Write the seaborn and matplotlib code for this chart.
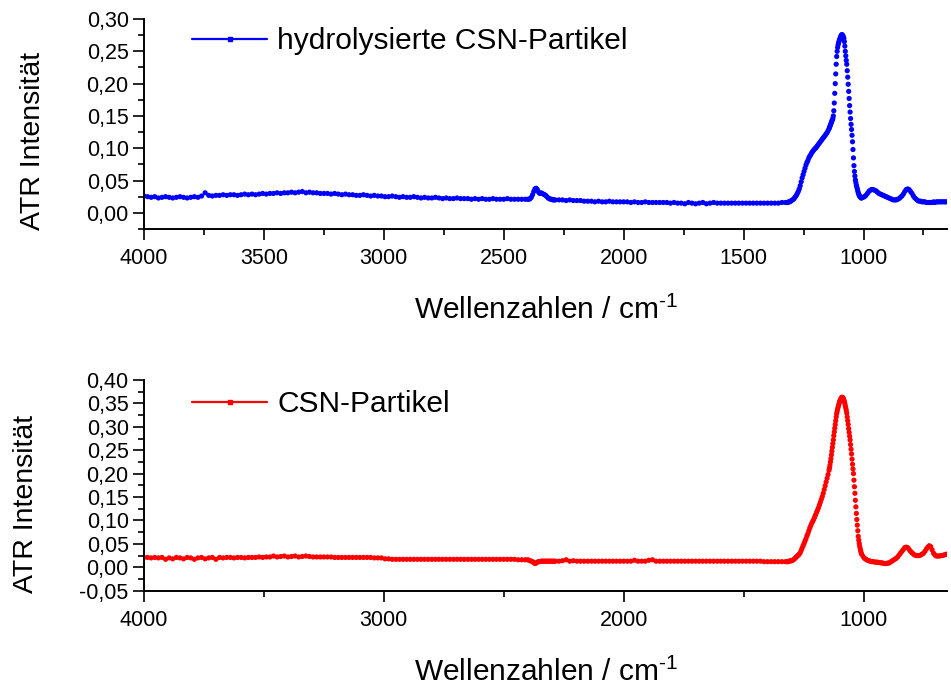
import numpy as np
import pandas as pd
import matplotlib
matplotlib.use("Agg")
import matplotlib.pyplot as plt
from matplotlib.lines import Line2D
from matplotlib.ticker import MultipleLocator, FuncFormatter
import seaborn as sns

# ATR spectra, stored as runs of equally spaced wavenumbers:
# (first wavenumber in cm^-1, spacing in cm^-1, intensities)

# hydrolysierte CSN-Partikel
blue_hi = (4000, 15, [
    .026, .025, .024, .025, .023, .024, .025, .024, .023, .024,
    .025, .024, .023, .024, .025, .024, .026, .031, .027, .026,
    .027, .027, .028, .027, .028, .028, .027, .028, .029, .028,
    .029, .028, .029, .030, .029, .030, .030, .031, .030, .031,
    .031, .032, .031, .032, .033, .031, .032, .031, .031, .030,
    .030, .030, .029, .030, .029, .028, .029, .028, .028, .027,
    .027, .028, .027, .026, .027, .026, .026, .025, .025, .026,
    .025, .024, .025, .024, .024, .025, .024, .023, .024, .023,
    .023, .024, .023, .022, .023, .022, .022, .023, .022, .022,
    .022, .021, .022, .021, .022, .021, .021, .022, .021, .021,
    .021, .022, .021, .021, .021, .021, .021])
blue_co2 = (2400, 5, [
    .021, .021, .022, .024, .028, .033, .037, .038, .036, .032,
    .030, .031, .030, .029, .028, .027, .025, .023, .022, .021,
    .021, .020, .020])
blue_mid = (2285, 15, [
    .020, .020, .020, .019, .020, .019, .019, .019, .018, .018,
    .018, .017, .018, .017, .017, .018, .017, .017, .017, .017,
    .017, .016, .017, .016, .016, .017, .016, .016, .016, .016,
    .016, .016, .015, .016, .015, .015, .014, .016, .015, .014,
    .015, .016, .014, .015, .016, .015, .015, .015, .015, .015,
    .015, .015, .015, .015, .015, .015, .015, .015, .015, .015,
    .015, .015, .015, .016, .016])
blue_rise = (1320, 4, [
    .016, .016, .017, .017, .018, .019, .020, .021, .023, .025,
    .027, .030, .033, .037, .042, .048, .054, .059, .064, .069,
    .074, .078, .081, .085, .088, .090, .093, .095, .097, .099,
    .100, .102, .104, .106, .108, .110, .112, .114, .116, .118,
    .120, .122, .124, .127, .130])
blue_band = (1142, 2, [
    .132, .134, .136, .138, .140, .142, .144, .146, .150, .158,
    .170, .185, .200, .215, .230, .242, .250, .256, .260, .263,
    .266, .268, .270, .272, .274, .275, .276, .275, .274, .272,
    .270, .265, .258, .250, .243, .236, .230, .220, .210, .199,
    .188, .177, .166, .156, .146, .137, .129, .120, .110, .098,
    .085, .073, .064, .057, .051, .047, .043, .040, .037, .034,
    .031, .029, .027, .026, .025, .024, .023])
blue_low = (1008, 6, [
    .023, .024, .025, .027, .030, .033, .035, .036, .036, .035,
    .034, .032, .030, .029, .028, .027, .026, .025, .024, .023,
    .022, .021, .020, .020, .020, .021, .022, .024, .026, .029,
    .033, .036, .037, .036, .033, .030, .026, .023, .021, .019,
    .018, .018, .017, .017, .017, .016, .016, .016, .016, .016,
    .017, .016, .017, .017, .017, .017, .017, .017, .017, .017])

# CSN-Partikel
red_hi = (4000, 15, [
    .021, .021, .020, .021, .020, .021, .017, .020, .018, .021,
    .020, .018, .021, .020, .017, .020, .021, .018, .020, .021,
    .017, .021, .020, .021, .021, .020, .021, .021, .020, .021,
    .021, .021, .022, .021, .022, .022, .024, .022, .023, .024,
    .022, .023, .024, .022, .023, .024, .023, .022, .022, .022,
    .022, .022, .022, .021, .021, .021, .021, .021, .021, .021,
    .021, .021, .021, .021, .020, .020, .020, .018, .018, .017,
    .017, .017, .017, .017, .017, .017, .017, .017, .017, .017,
    .017, .017, .017, .017, .017, .017, .017, .017, .017, .017,
    .017, .017, .017, .017, .017, .017, .017, .017, .017, .017,
    .017, .017, .017, .017, .016, .016, .016])
red_co2 = (2400, 5, [
    .016, .015, .014, .013, .012, .010, .008, .009, .011, .012,
    .012, .013, .013, .013, .013, .013, .013, .013, .013, .013,
    .013, .013, .013])
red_mid = (2285, 15, [
    .013, .013, .014, .016, .013, .014, .013, .013, .013, .013,
    .013, .013, .013, .013, .013, .013, .013, .013, .013, .013,
    .013, .013, .015, .013, .013, .013, .015, .016, .013, .013,
    .013, .013, .013, .013, .013, .013, .013, .013, .013, .013,
    .013, .013, .013, .013, .013, .013, .013, .013, .013, .013,
    .013, .013, .013, .013, .013, .013, .013, .013, .012, .012,
    .012, .012, .012, .012, .012])
red_rise = (1320, 4, [
    .012, .012, .013, .013, .014, .014, .015, .016, .018, .020,
    .022, .024, .026, .028, .031, .036, .041, .046, .051, .056,
    .061, .067, .072, .078, .084, .089, .094, .098, .102, .107,
    .112, .117, .122, .127, .133, .139, .145, .151, .158, .166,
    .174, .182, .190, .198, .207])
red_band = (1142, 2, [
    .212, .218, .225, .232, .240, .248, .256, .264, .272, .281,
    .289, .297, .305, .313, .321, .328, .333, .338, .342, .346,
    .350, .353, .356, .358, .360, .362, .363, .363, .362, .360,
    .357, .354, .350, .345, .340, .335, .329, .321, .313, .305,
    .296, .288, .280, .272, .262, .252, .242, .231, .220, .210,
    .200, .186, .172, .158, .143, .129, .115, .102, .090, .078,
    .066, .058, .051, .045, .040, .035, .031])
red_low = (1008, 6, [
    .028, .023, .019, .017, .015, .014, .013, .012, .012, .011,
    .011, .011, .010, .010, .009, .009, .008, .008, .009, .009,
    .011, .013, .015, .017, .019, .022, .026, .030, .034, .038,
    .042, .043, .042, .038, .034, .031, .028, .026, .025, .025,
    .025, .026, .028, .030, .034, .039, .043, .046, .044, .037,
    .030, .026, .024, .024, .024, .025, .025, .026, .027, .028])

labels = ["hydrolysierte CSN-Partikel", "CSN-Partikel"]
colors = ["#0000FF", "#FF0000"]


def spectrum(*runs):
    """Join equally spaced runs into one wavenumber/intensity table."""
    wn, val = [], []
    for start, step, values in runs:
        wn.append(start - step * np.arange(len(values)))
        val.append(np.asarray(values, dtype=float))
    return pd.DataFrame({"wn": np.concatenate(wn), "I": np.concatenate(val)})


blue = spectrum(blue_hi, blue_co2, blue_mid, blue_rise, blue_band, blue_low)
red = spectrum(red_hi, red_co2, red_mid, red_rise, red_band, red_low)

sns.set_theme(style="ticks")
plt.rcParams["font.family"] = ["Liberation Sans", "DejaVu Sans"]
plt.rcParams["mathtext.fontset"] = "custom"
plt.rcParams["mathtext.rm"] = "Liberation Sans"
plt.rcParams["mathtext.it"] = "Liberation Sans:italic"
plt.rcParams["mathtext.bf"] = "Liberation Sans:bold"
for key in ("text.color", "axes.labelcolor", "xtick.color", "ytick.color",
            "axes.edgecolor"):
    plt.rcParams[key] = "black"

fig = plt.figure(figsize=(9.51, 6.87), dpi=100)
ax1 = fig.add_axes([0.1514, 0.6667, 0.8449, 0.3056])
ax2 = fig.add_axes([0.1514, 0.1402, 0.8449, 0.3067])

comma = FuncFormatter(lambda v, pos: f"{v:.2f}".replace(".", ","))

panels = [
    (ax1, blue, colors[0], labels[0], (-0.025, 0.30), 500, 250, (-0.122, 0.419), 0.895),
    (ax2, red, colors[1], labels[1], (-0.05, 0.40), 1000, 500, (-0.1307, 0.412), 0.886),
]

for ax, df, col, lab, ylim, xmaj, xmin, ylab_xy, leg_y in panels:
    sns.scatterplot(data=df, x="wn", y="I", ax=ax, color=col, s=14,
                    marker="o", linewidth=0, edgecolor="none", legend=False)
    ax.set_xlim(4000, 650)
    ax.set_ylim(*ylim)
    ax.xaxis.set_major_locator(MultipleLocator(xmaj))
    ax.xaxis.set_minor_locator(MultipleLocator(xmin))
    ax.yaxis.set_major_locator(MultipleLocator(0.05))
    ax.yaxis.set_minor_locator(MultipleLocator(0.025))
    ax.yaxis.set_major_formatter(comma)
    ax.xaxis.set_major_formatter(FuncFormatter(lambda v, pos: f"{v:.0f}"))

    for side in ("top", "right"):
        ax.spines[side].set_visible(False)
    for side in ("left", "bottom"):
        ax.spines[side].set_linewidth(1.4)

    ax.tick_params(which="major", direction="out", length=8, width=1.2,
                   labelsize=15.5)
    ax.tick_params(which="minor", direction="out", length=4.5, width=1.2)
    ax.tick_params(axis="x", which="major", pad=6)
    ax.tick_params(axis="y", which="major", pad=3)

    ax.set_xlabel("Wellenzahlen / cm$^{\\text{-1}}$", fontsize=21.5, labelpad=19)
    ax.set_ylabel("ATR Intensität", fontsize=20.5)
    ax.yaxis.set_label_coords(*ylab_xy)

    handle = Line2D([], [], color=col, lw=1.6, marker="s", markersize=2.6)
    ax.legend([handle], [lab], loc="center left", bbox_to_anchor=(0.06, leg_y),
              frameon=False, fontsize=21.5, handlelength=2.5,
              handletextpad=0.35, borderpad=0, borderaxespad=0)

fig.savefig("out.png", dpi=100)
